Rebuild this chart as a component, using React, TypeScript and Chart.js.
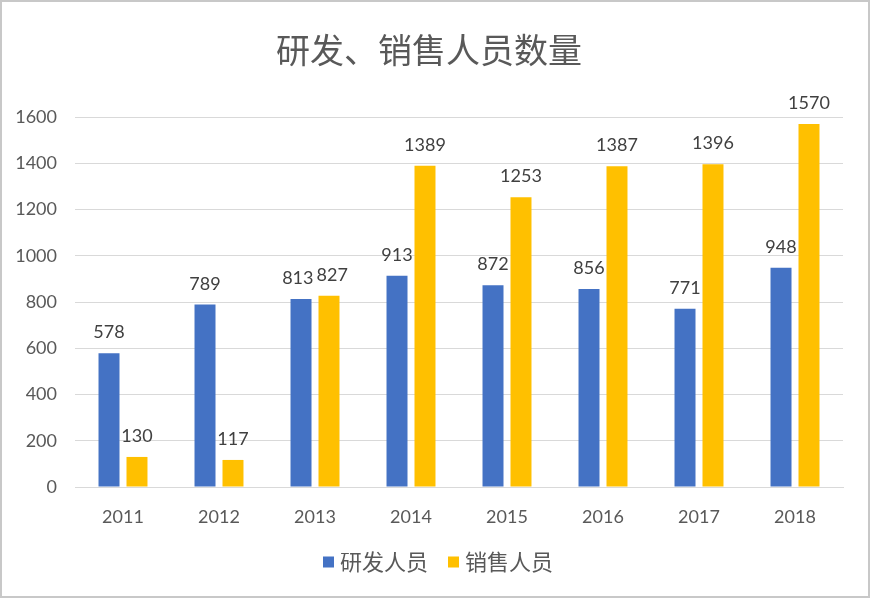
import React, { useEffect, useRef } from "react";
import { Chart, registerables } from "chart.js";

Chart.register(...registerables);

const years = ["2011", "2012", "2013", "2014", "2015", "2016", "2017", "2018"];
const rdStaff = [578, 789, 813, 913, 872, 856, 771, 948];
const salesStaff = [130, 117, 827, 1389, 1253, 1387, 1396, 1570];
const seriesNames = ["研发人员", "销售人员"];
const seriesColors = ["#4472C4", "#FFC000"];
const chartTitle = "研发、销售人员数量";

const W = 870;
const H = 598;
const LATIN = "Lato, 'Noto Sans CJK SC', sans-serif";
const CJK = "'Noto Sans CJK SC', Lato, sans-serif";

// Frame, title, value labels and legend drawn straight onto the canvas
const decorations = {
  id: "decorations",
  afterDatasetsDraw(chart: Chart) {
    const ctx = chart.ctx;
    ctx.save();
    ctx.font = `18px ${LATIN}`;
    ctx.fillStyle = "#404040";
    ctx.textAlign = "center";
    ctx.textBaseline = "alphabetic";
    const left = chart.getDatasetMeta(0).data as any[];
    const right = chart.getDatasetMeta(1).data as any[];
    const a = chart.data.datasets[0].data as number[];
    const b = chart.data.datasets[1].data as number[];
    for (let i = 0; i < left.length; i++) {
      const ta = String(a[i]);
      const tb = String(b[i]);
      let xa = left[i].x;
      let xb = right[i].x;
      const ya = left[i].y - 15;
      const yb = right[i].y - 15;
      // push apart value labels that would collide at similar heights
      if (Math.abs(ya - yb) < 18) {
        const wa = ctx.measureText(ta).width;
        const wb = ctx.measureText(tb).width;
        const overlap = xa + wa / 2 + 3 - (xb - wb / 2);
        if (overlap > 0) {
          xa -= overlap / 2;
          xb += overlap / 2;
        }
      }
      ctx.fillText(ta, xa, ya);
      ctx.fillText(tb, xb, yb);
    }
    ctx.restore();
  },
  afterDraw(chart: Chart) {
    const ctx = chart.ctx;
    ctx.save();
    // outer frame
    ctx.strokeStyle = "#c8c8c8";
    ctx.lineWidth = 2;
    ctx.strokeRect(1, 1, W - 2, H - 2);

    // title
    ctx.font = `34px ${CJK}`;
    ctx.fillStyle = "#595959";
    ctx.textAlign = "center";
    ctx.textBaseline = "middle";
    ctx.fillText(chartTitle, 429, 50);

    // legend
    ctx.font = `22px ${CJK}`;
    const box = 11;
    const gapBox = 6;
    const gapItem = 20;
    const widths = chart.data.datasets.map((d) => ctx.measureText(String(d.label)).width);
    const total = widths.reduce((s, w) => s + box + gapBox + w, 0) + gapItem * (widths.length - 1);
    let x = 438 - total / 2;
    const y = 562;
    ctx.textAlign = "left";
    chart.data.datasets.forEach((d, i) => {
      ctx.fillStyle = String(d.backgroundColor);
      ctx.fillRect(x, y - box / 2, box, box);
      x += box + gapBox;
      ctx.fillStyle = "#595959";
      ctx.fillText(String(d.label), x, y);
      x += widths[i] + gapItem;
    });
    ctx.restore();
  },
};

export default function App() {
  const ref = useRef<HTMLCanvasElement>(null);

  useEffect(() => {
    if (!ref.current) return;
    const chart = new Chart(ref.current, {
      type: "bar",
      data: {
        labels: years,
        datasets: [
          {
            label: seriesNames[0],
            data: rdStaff,
            backgroundColor: seriesColors[0],
            categoryPercentage: 0.583,
            barPercentage: 0.75,
          },
          {
            label: seriesNames[1],
            data: salesStaff,
            backgroundColor: seriesColors[1],
            categoryPercentage: 0.583,
            barPercentage: 0.75,
          },
        ],
      },
      options: {
        responsive: false,
        animation: false,
        devicePixelRatio: 1,
        layout: { padding: { left: 0, right: 27, top: 117, bottom: 71 } },
        plugins: {
          legend: { display: false },
          title: { display: false },
          tooltip: { enabled: false },
        },
        scales: {
          x: {
            grid: { display: false, drawTicks: false },
            border: { display: true, color: "#d9d9d9", width: 1 },
            ticks: {
              color: "#595959",
              font: { family: LATIN, size: 18 },
              padding: 19,
            },
            afterFit(scale: any) {
              scale.height = 40;
            },
          },
          y: {
            min: 0,
            max: 1600,
            ticks: {
              stepSize: 200,
              color: "#595959",
              font: { family: LATIN, size: 18 },
              padding: 18,
              callback: (v: any) => String(v),
            },
            grid: { color: "#d9d9d9", drawTicks: false },
            border: { display: false },
            afterFit(scale: any) {
              scale.width = 75;
            },
          },
        },
      },
      plugins: [decorations],
    });
    return () => chart.destroy();
  }, []);

  return (
    <div style={{ position: "absolute", left: 0, top: 0, width: W, height: H, background: "#ffffff" }}>
      <canvas ref={ref} width={W} height={H} style={{ width: W, height: H, display: "block" }} />
    </div>
  );
}
